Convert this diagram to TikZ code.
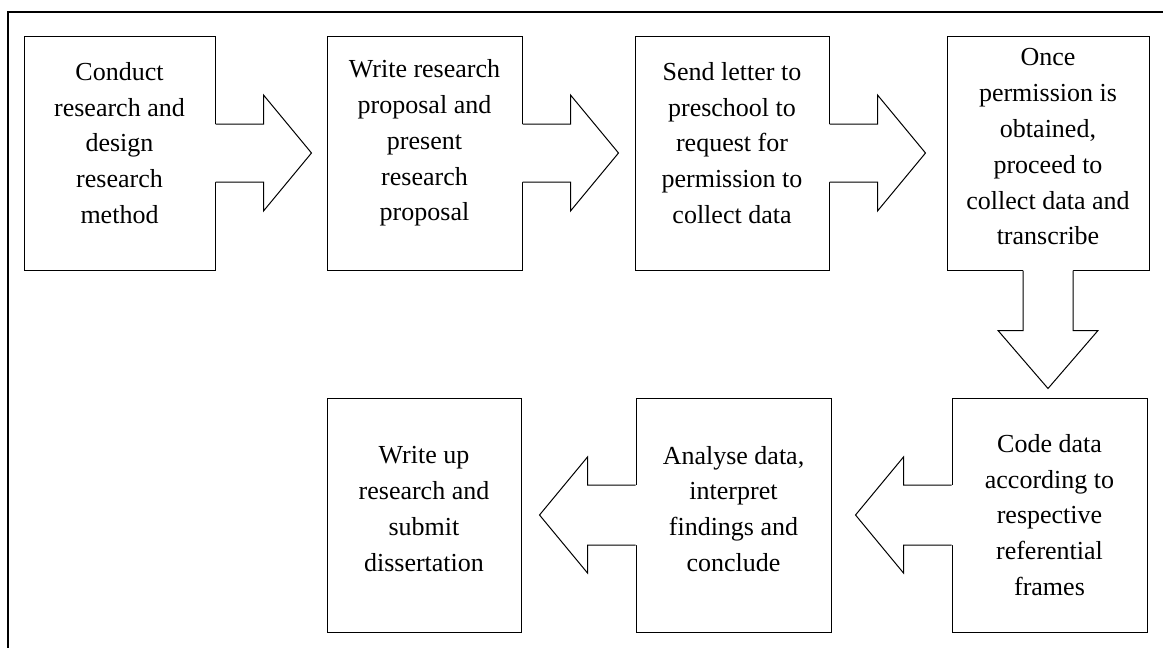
\documentclass[tikz,border=0pt]{standalone}
\usepackage{fontspec}
\setmainfont{Liberation Serif}
\usetikzlibrary{calc}
\tikzset{
  stepbox/.style={draw, minimum width=#1, minimum height=117pt, inner sep=0pt},
  stepbox/.default=97.5pt,
  steptext/.style={align=center, inner sep=0pt, font=\fontsize{13}{17.9}\selectfont},
}
\begin{document}
\begin{tikzpicture}[x=0.5pt, y=-0.5pt, line width=0.5pt]
  \useasboundingbox (0,0) rectangle (1163,648);
  \draw [line width=0.8pt] (8,648) -- (8,12) -- (1163,12);
  % top row
  \node [stepbox=95.5pt] (s1) at (119.5,153) {};
  \node [stepbox] (s2) at (424.5,153) {};
  \node [stepbox=97pt] (s3) at (732,153) {};
  \node [stepbox=101pt] (s4) at (1048,153) {};
  % bottom row
  \node [stepbox] (s5) at (1049.5,515) {};
  \node [stepbox] (s6) at (733.5,515) {};
  \node [stepbox=97pt] (s7) at (424,515) {};
  % block arrows
  \foreach \a in {s1,s2,s3} {
    \fill [white] ($(\a.east)+(-2,-29)$) -- ++(50,0) -- ++(0,-29) -- ++(48,58) -- ++(-48,58) -- ++(0,-29) -- ++(-50,0) -- cycle;
    \draw ($(\a.east)+(0,-29)$) -- ++(48,0) -- ++(0,-29) -- ++(48,58) -- ++(-48,58) -- ++(0,-29) -- ++(-48,0);
  }
  \fill [white] ($(s4.south)+(-25,-2)$) -- ++(0,62) -- ++(-25,0) -- ++(50,58) -- ++(50,-58) -- ++(-25,0) -- ++(0,-62) -- cycle;
  \draw ($(s4.south)+(-25,0)$) -- ++(0,60) -- ++(-25,0) -- ++(50,58) -- ++(50,-58) -- ++(-25,0) -- ++(0,-60);
  \foreach \a in {s5,s6} {
    \fill [white] ($(\a.west)+(2,-30)$) -- ++(-50,0) -- ++(0,-28) -- ++(-48,58) -- ++(48,58) -- ++(0,-28) -- ++(50,0) -- cycle;
    \draw ($(\a.west)+(0,-30)$) -- ++(-48,0) -- ++(0,-28) -- ++(-48,58) -- ++(48,58) -- ++(0,-28) -- ++(48,0);
  }
  % texts
  \node [steptext] (t1) at (119.5,143) {Conduct\\research and\\design\\research\\method};
  \node [steptext] (t2) at (424.5,143) {Write research\\proposal and\\present\\research\\proposal};
  \node [steptext] (t3) at (732,143) {Send letter to\\preschool to\\request for\\permission to\\collect data};
  \node [steptext] (t4) at (1048,147) {Once\\permission is\\obtained,\\proceed to\\collect data and\\transcribe};
  \node [steptext] (t5) at (1049.5,515) {Code data\\according to\\respective\\referential\\frames};
  \node [steptext] (t6) at (733.5,509) {Analyse data,\\interpret\\findings and\\conclude};
  \node [steptext] (t7) at (424,509) {Write up\\research and\\submit\\dissertation};
\end{tikzpicture}
\end{document}
